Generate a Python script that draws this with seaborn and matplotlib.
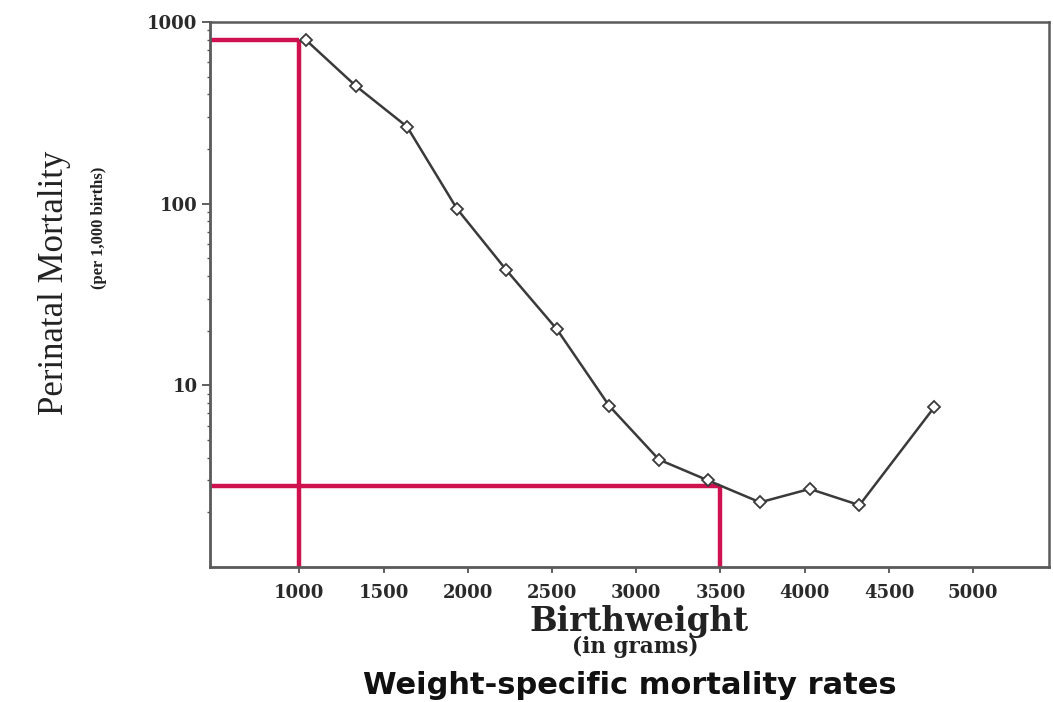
import matplotlib
matplotlib.use("Agg")
import matplotlib.pyplot as plt
import seaborn as sns
import pandas as pd
from matplotlib.ticker import LogLocator, NullFormatter, FixedLocator

# Data
birthweight = [1040, 1335, 1640, 1935, 2230, 2530, 2840, 3135, 3425, 3735, 4030, 4325, 4770]
mortality = [795, 445, 265, 94, 43, 20.3, 7.7, 3.9, 3.0, 2.27, 2.69, 2.19, 7.6]
x_ticks = [1000, 1500, 2000, 2500, 3000, 3500, 4000, 4500, 5000]
y_ticks = [10, 100, 1000]
y_tick_labels = ["10", "100", "1000"]
guide_x = [1000, 3500]
guide_y = [800, 2.8]

sns.set_theme(style="white")
plt.rcParams["font.family"] = ["Liberation Serif", "DejaVu Serif"]

fig = plt.figure(figsize=(10.53, 7.02), dpi=100)
ax = fig.add_axes([0.1994, 0.1923, 0.7968, 0.7764])

df = pd.DataFrame({"bw": birthweight, "mort": mortality})

xmin, xmax = 470, 5450
ymin, ymax = 1.0, 1000

# red guide lines
red = "#cf1150"
for gx, gy in zip(guide_x, guide_y):
    ax.plot([xmin, gx], [gy, gy], color=red, lw=3.2, solid_capstyle="butt", zorder=2)
    ax.plot([gx, gx], [ymin, gy], color=red, lw=3.2, solid_capstyle="butt", zorder=2)

sns.lineplot(data=df, x="bw", y="mort", ax=ax, color="#3a3a3a", lw=1.8,
             marker="D", markersize=6, markerfacecolor="white",
             markeredgecolor="#3a3a3a", markeredgewidth=1.3, zorder=3)

ax.set_yscale("log")
ax.set_xlim(xmin, xmax)
ax.set_ylim(ymin, ymax)

tick_font = {"family": ["DejaVu Serif"], "weight": "bold", "size": 13}
ax.xaxis.set_major_locator(FixedLocator(x_ticks))
ax.set_xticklabels([str(v) for v in x_ticks], fontdict=tick_font, color="#2a2a2a")
ax.yaxis.set_major_locator(FixedLocator(y_ticks))
ax.set_yticklabels(y_tick_labels, fontdict=tick_font, color="#2a2a2a")
ax.yaxis.set_minor_locator(LogLocator(base=10, subs=range(2, 10)))
ax.yaxis.set_minor_formatter(NullFormatter())

ax.tick_params(axis="x", which="major", direction="out", length=4, width=1.2,
               color="#444444", pad=8, bottom=True)
ax.tick_params(axis="y", which="major", direction="out", length=6, width=1.2,
               color="#444444", pad=3, left=True)
ax.tick_params(axis="y", which="minor", direction="out", length=2.5, width=1.0,
               color="#555555", left=True)

for side, sp in ax.spines.items():
    sp.set_visible(True)
    sp.set_color("#5a5a5a")
    sp.set_linewidth(2.0 if side in ("left", "bottom") else 1.8)

ax.set_xlabel("")
ax.set_ylabel("")

# axis titles
fig.text(0.052, 0.597, "Perinatal Mortality", rotation=90, ha="center", va="center",
         fontsize=25, color="#222222")
fig.text(0.094, 0.676, "(per 1,000 births)", rotation=90, ha="center", va="center",
         fontsize=12, fontweight="bold", color="#222222")
fig.text(0.607, 1 - 631 / 702, "Birthweight", ha="center", va="baseline",
         fontsize=23.5, fontweight="bold", color="#222222", family=["DejaVu Serif"])
fig.text(0.603, 1 - 653 / 702, "(in grams)", ha="center", va="baseline",
         fontsize=15.5, fontweight="bold", color="#222222", family=["DejaVu Serif"])
fig.text(0.598, 1 - 694 / 702, "Weight-specific mortality rates", ha="center", va="baseline",
         fontsize=22, fontweight="bold", color="#111111",
         family=["DejaVu Sans"])

fig.savefig("out.png", dpi=100)
